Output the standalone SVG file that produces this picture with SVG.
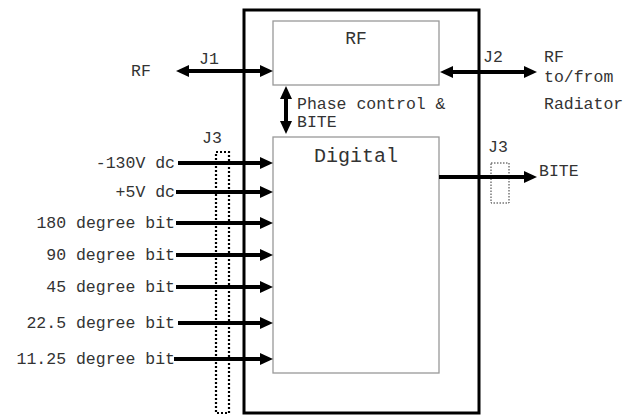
<svg xmlns="http://www.w3.org/2000/svg" width="626" height="416" viewBox="0 0 626 416">
<style>
text{font-family:"Liberation Mono","Courier New",monospace;font-size:16.5px;fill:#333}
.r{text-anchor:end}
.ln{stroke:#000;stroke-width:4;fill:none}
.box{fill:#fff;stroke:#999;stroke-width:1.3}
</style>
<defs>
<marker id="ah" markerUnits="userSpaceOnUse" markerWidth="14" markerHeight="14" refX="3" refY="6" orient="auto-start-reverse" viewBox="0 0 14 14">
<path d="M0,0 L13,6 L0,12 z" fill="#000"/>
</marker>
</defs>
<rect width="626" height="416" fill="#fff"/>
<g id="outer"><rect x="244" y="10" width="235" height="403" fill="none" stroke="#000" stroke-width="3"/></g>
<g id="rf-box"><rect class="box" x="273" y="21" width="166" height="64"/><text x="356" y="44" text-anchor="middle" style="font-size:18px">RF</text></g>
<g id="digital"><rect class="box" x="273" y="137" width="166" height="236"/><text x="356" y="162" text-anchor="middle" style="font-size:20px">Digital</text></g>
<g id="j3-left"><rect x="216" y="152" width="13" height="261" fill="none" stroke="#000" stroke-width="2.2" stroke-dasharray="2 2"/><text x="212" y="143" text-anchor="middle">J3</text></g>
<g id="j3-right"><rect x="491" y="163" width="18" height="40" fill="none" stroke="#333" stroke-width="1" stroke-dasharray="1.5 1.5"/><text x="498" y="152" text-anchor="middle">J3</text></g>
<g id="connectors">
<line class="ln" x1="186" y1="71" x2="263" y2="71" marker-start="url(#ah)" marker-end="url(#ah)"/>
<line class="ln" x1="450" y1="72" x2="527" y2="72" marker-start="url(#ah)" marker-end="url(#ah)"/>
<line class="ln" x1="286" y1="96" x2="286" y2="124" marker-start="url(#ah)" marker-end="url(#ah)"/>
<line class="ln" x1="439" y1="177" x2="527" y2="177" marker-end="url(#ah)"/>
<line class="ln" x1="178" y1="163" x2="263" y2="163" marker-end="url(#ah)"/>
<line class="ln" x1="176" y1="192" x2="263" y2="192" marker-end="url(#ah)"/>
<line class="ln" x1="176" y1="223" x2="263" y2="223" marker-end="url(#ah)"/>
<line class="ln" x1="176" y1="255" x2="263" y2="255" marker-end="url(#ah)"/>
<line class="ln" x1="176" y1="287" x2="263" y2="287" marker-end="url(#ah)"/>
<line class="ln" x1="178" y1="323" x2="263" y2="323" marker-end="url(#ah)"/>
<line class="ln" x1="174" y1="359" x2="263" y2="359" marker-end="url(#ah)"/>
</g>
<g id="labels">
<text x="131" y="76">RF</text>
<text x="199" y="64">J1</text>
<text x="483" y="62">J2</text>
<text x="544" y="62">RF</text>
<text x="544" y="82">to/from</text>
<text x="544" y="109">Radiator</text>
<text x="297" y="109">Phase control &amp;</text>
<text x="297" y="127">BITE</text>
<text x="539" y="176">BITE</text>
<text class="r" x="175" y="168">-130V dc</text>
<text class="r" x="175" y="197">+5V dc</text>
<text class="r" x="175" y="228">180 degree bit</text>
<text class="r" x="175" y="260">90 degree bit</text>
<text class="r" x="175" y="292">45 degree bit</text>
<text class="r" x="175" y="328">22.5 degree bit</text>
<text class="r" x="175" y="364">11.25 degree bit</text>
</g>
</svg>
